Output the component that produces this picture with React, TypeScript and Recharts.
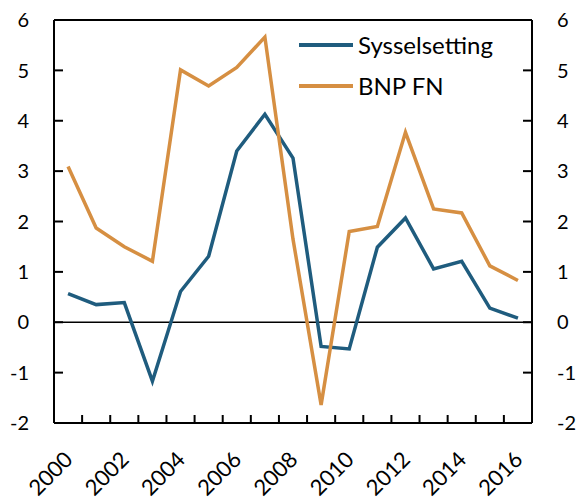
import { LineChart, Line, XAxis, YAxis, ReferenceLine, Legend } from 'recharts';

const YEARS = [2000, 2001, 2002, 2003, 2004, 2005, 2006, 2007, 2008, 2009, 2010, 2011, 2012, 2013, 2014, 2015, 2016];
const SYSSELSETTING = [0.57, 0.35, 0.39, -1.17, 0.61, 1.31, 3.4, 4.13, 3.26, -0.48, -0.53, 1.49, 2.07, 1.06, 1.21, 0.28, 0.08];
const BNP_FN = [3.09, 1.87, 1.5, 1.21, 5.01, 4.69, 5.06, 5.66, 1.65, -1.64, 1.8, 1.9, 3.77, 2.25, 2.17, 1.12, 0.83];
const Y_TICKS = [-2, -1, 0, 1, 2, 3, 4, 5, 6];

const SERIES = [
  { key: 'sys', name: 'Sysselsetting', color: '#1F5C7E', axis: 'left' },
  { key: 'bnp', name: 'BNP FN', color: '#D68F42', axis: 'right' },
];

const W = 579;
const H = 498;
const LEFT_W = 54;
const RIGHT_W = 47;
const BAND = (W - LEFT_W - RIGHT_W) / YEARS.length;
const FONT = 'Lato, "Open Sans", sans-serif';

const data = YEARS.map((year, i) => ({ year, sys: SYSSELSETTING[i], bnp: BNP_FN[i] }));

// ticks sit between the year bands, labels only on even years
const XTick = ({ x, y, payload }: any) => {
  const idx = YEARS.indexOf(payload.value);
  const lx = x + 6;
  const ly = y + 38;
  const tx = x + BAND / 2;
  return (
    <g>
      {idx < YEARS.length - 1 && <path d={`M${tx},${y}V${y - 8}`} stroke="#000" strokeWidth={2} fill="none" />}
      {payload.value % 2 === 0 && (
        <text x={lx} y={ly} transform={`rotate(-45, ${lx}, ${ly})`} textAnchor="end" fill="#000" fontSize={22} fontFamily={FONT}>
          {payload.value}
        </text>
      )}
    </g>
  );
};

// inward tick marks on both value axes
const YTick = ({ x, y, payload, side }: any) => {
  const dir = side === 'left' ? 1 : -1;
  return (
    <g>
      <path d={`M${x},${y}H${x + dir * 9}`} stroke="#000" strokeWidth={2} fill="none" />
      <text
        x={x - dir * 25}
        y={y}
        dy="0.36em"
        textAnchor={side === 'left' ? 'end' : 'start'}
        fill="#000"
        fontSize={20}
        fontFamily={FONT}
      >
        {payload.value}
      </text>
    </g>
  );
};

const LegendBox = () => (
  <div style={{ fontFamily: FONT, fontSize: 24, color: '#000' }}>
    {SERIES.map(s => (
      <div key={s.key} style={{ display: 'flex', alignItems: 'center', height: 41 }}>
        <span style={{ display: 'inline-block', width: 54, height: 4, background: s.color, marginRight: 5 }} />
        <span>{s.name}</span>
      </div>
    ))}
  </div>
);

export default function App() {
  return (
    <div style={{ position: 'absolute', left: 0, top: 0, background: '#fff' }}>
      <LineChart width={W} height={H} data={data} margin={{ top: 20, right: 0, bottom: 0, left: 0 }}>
        <XAxis
          dataKey="year"
          xAxisId="x"
          scale="band"
          interval={0}
          height={75}
          tickSize={0}
          tickMargin={0}
          tickLine={false}
          axisLine={{ stroke: '#000', strokeWidth: 2 }}
          tick={<XTick />}
        />
        <YAxis
          yAxisId="left"
          width={LEFT_W}
          domain={[-2, 6]}
          ticks={Y_TICKS}
          tickSize={0}
          tickMargin={0}
          tickLine={false}
          axisLine={{ stroke: '#000', strokeWidth: 2 }}
          tick={<YTick side="left" />}
          interval={0}
        />
        <YAxis
          yAxisId="right"
          orientation="right"
          width={RIGHT_W}
          domain={[-2, 6]}
          ticks={Y_TICKS}
          tickSize={0}
          tickMargin={0}
          tickLine={false}
          axisLine={{ stroke: '#000', strokeWidth: 2 }}
          tick={<YTick side="right" />}
          interval={0}
        />
        <ReferenceLine yAxisId="left" xAxisId="x" y={6} stroke="#000" strokeWidth={2} />
        <ReferenceLine yAxisId="left" xAxisId="x" y={0} stroke="#000" strokeWidth={1.3} />
        {SERIES.map(s => (
          <Line
            key={s.key}
            xAxisId="x"
            yAxisId={s.axis}
            type="linear"
            dataKey={s.key}
            name={s.name}
            stroke={s.color}
            strokeWidth={3.5}
            dot={false}
            isAnimationActive={false}
          />
        ))}
        <Legend
          layout="vertical"
          align="center"
          verticalAlign="middle"
          wrapperStyle={{ left: 299, top: 24, width: 250 }}
          content={<LegendBox />}
        />
      </LineChart>
    </div>
  );
}
